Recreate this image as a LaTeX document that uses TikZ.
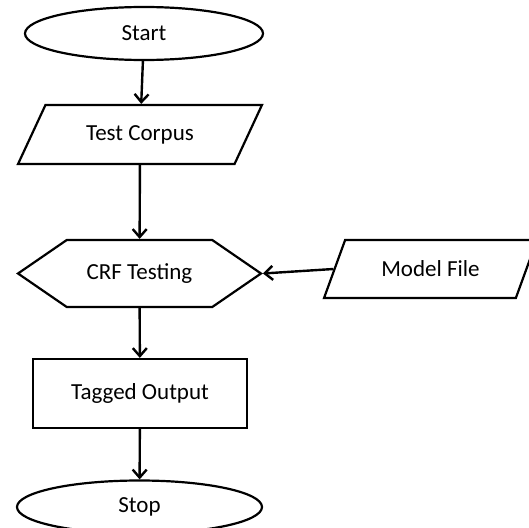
\documentclass[tikz,border=0pt]{standalone}
\usepackage{fontspec}
\setmainfont{Carlito}
\usetikzlibrary{shapes.geometric,shapes.symbols,arrows.meta}

\tikzset{
  chart/.style={draw,line width=2.2pt,inner sep=0pt,font=\fontsize{23}{27}\selectfont},
  terminal/.style={chart,ellipse,minimum height=53pt},
  iobox/.style={chart,trapezium,trapezium stretches=true},
  process/.style={chart,rectangle,minimum width=214pt,minimum height=69pt},
  hexbox/.style={chart,signal,signal to=west and east,signal pointer angle=69,minimum width=243pt,minimum height=67pt},
  flow/.style={-{Straight Barb[length=8pt,width=14pt]},line width=2.4pt}
}

\begin{document}
\begin{tikzpicture}[x=1pt,y=-1pt]
\useasboundingbox (0,0) rectangle (529,527);
\node[terminal,minimum width=238pt] (start) at (144,33.5) {Start};
\node[iobox,trapezium left angle=50,trapezium right angle=130,minimum width=244pt,minimum height=59pt] (corpus) at (140,134.5) {Test Corpus};
\node[hexbox] (crf) at (139.5,273.5) {CRF Testing};
\node[iobox,trapezium left angle=53,trapezium right angle=127,minimum width=213pt,minimum height=58pt] (model) at (430.5,269) {Model File};
\node[process] (tagged) at (140,393.5) {Tagged Output};
\node[terminal,minimum width=245pt] (stop) at (139.5,507) {Stop};
\draw[flow] (start) -- (corpus);
\draw[flow] (corpus) -- (crf);
\draw[flow] (model.west) -- (crf.east);
\draw[flow] (crf) -- (tagged);
\draw[flow] (tagged) -- (stop);
\end{tikzpicture}
\end{document}
